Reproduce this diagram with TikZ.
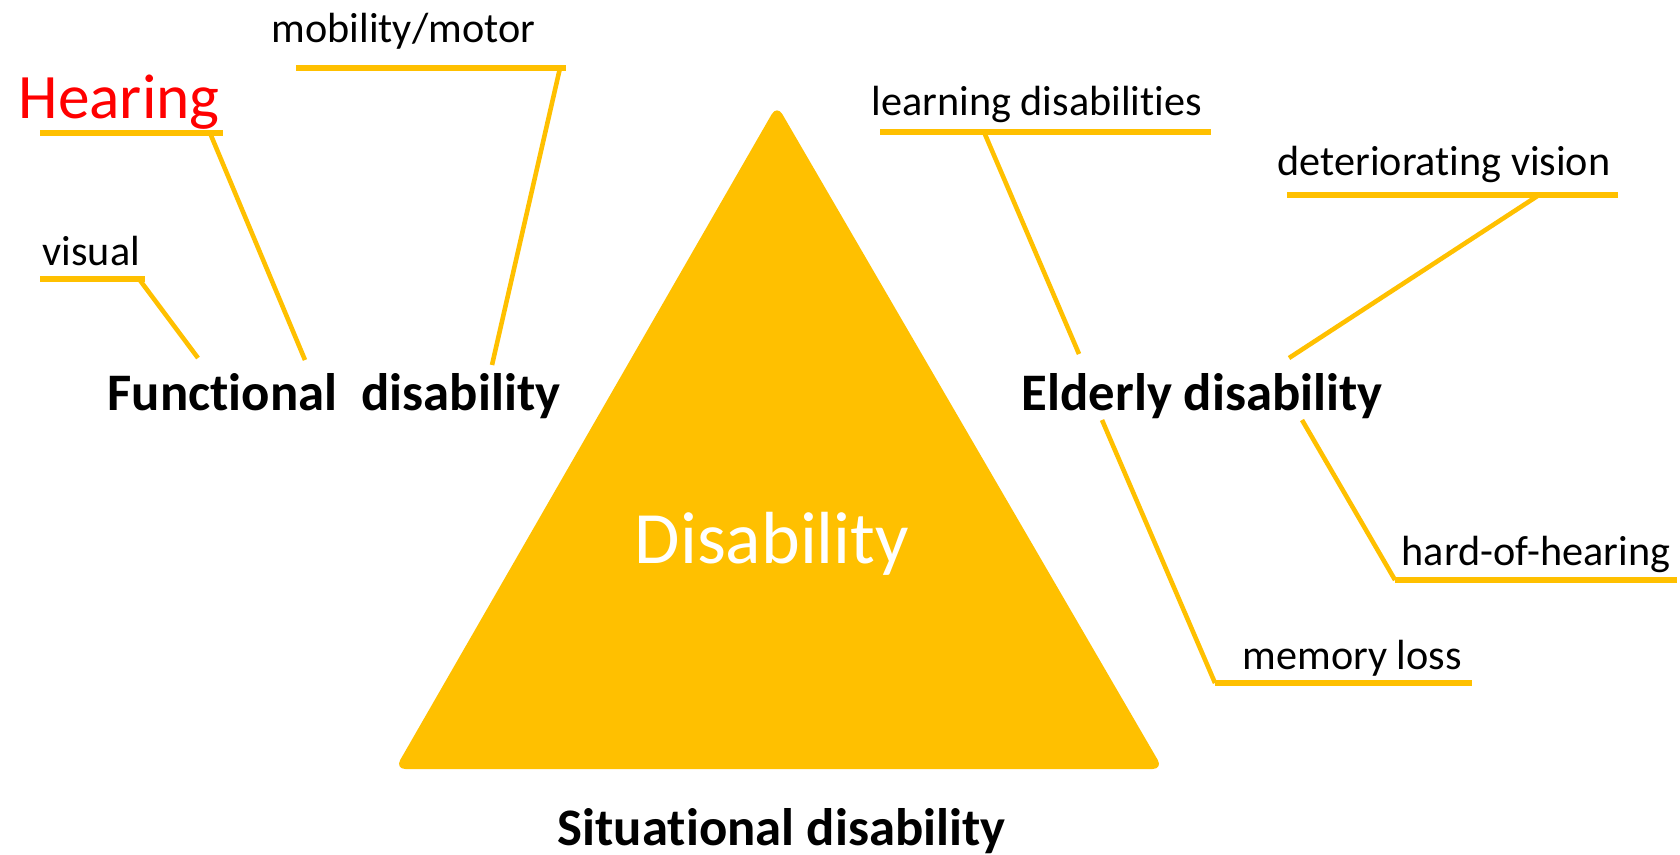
\documentclass[tikz,border=0pt]{standalone}
\usepackage{fontspec}
\setmainfont{Carlito}[Ligatures=NoCommon]
\usepackage{tikz}
\definecolor{gold}{HTML}{FFC000}

\begin{document}
\begin{tikzpicture}[x=0.01cm,y=-0.01cm,
        under/.style={draw=gold, line width=1.6pt},
        lead/.style={draw=gold, line width=1.3pt},
        lab/.style={anchor=base west, inner sep=0pt,
                        font=\fontsize{12}{14}\selectfont},
        head/.style={anchor=base west, inner sep=0pt,
                        font=\fontsize{15}{18}\selectfont\bfseries}]
    \useasboundingbox (0,0) rectangle (1680,854);
    \fill[gold, rounded corners=3pt]
    (777,105) -- (1163,769) -- (395,769) -- cycle;

    \node[lab] (mob) at (271,42) {mobility/motor};
    \node[lab, text=red, font=\fontsize{18}{20}\selectfont] (hear) at (18,118) {Hearing};
    \node[lab] (vis) at (42,265) {visual};
    \node[head] (func) at (107,410) {Functional\ \ disability};
    \node[lab] (learn) at (871,115) {learning disabilities};
    \node[lab] (det) at (1277,175) {deteriorating vision};
    \node[head] (eld) at (1021,410) {Elderly disability};
    \node[lab, text=white, font=\fontsize{21}{24}\selectfont] (dis) at (634,563) {Disability};
    \node[lab] (hard) at (1401,565) {hard-of-hearing};
    \node[lab] (mem) at (1242,669) {memory loss};
    \node[head] (sit) at (557,845) {Situational disability};

    % underlines
    \draw[under] (296,68) coordinate (mobA) -- (566,68) coordinate (mobB);
    \draw[under] (40,133) coordinate (hearA) -- (223,133) coordinate (hearB);
    \draw[under] (40,279) coordinate (visA) -- (145,279) coordinate (visB);
    \draw[under] (880,132) coordinate (learnA) -- (1211,132) coordinate (learnB);
    \draw[under] (1287,195) coordinate (detA) -- (1618,195) coordinate (detB);
    \draw[under] (1395,580) coordinate (hardA) -- (1677,580) coordinate (hardB);
    \draw[under] (1215,683) coordinate (memA) -- (1472,683) coordinate (memB);

    % leads
    \coordinate (mobC) at (560,68);    \coordinate (mobD) at (492,365);
    \coordinate (hearC) at (210,133);  \coordinate (hearD) at (305,360);
    \coordinate (visC) at (139,279);   \coordinate (visD) at (198,358);
    \coordinate (learnC) at (984,132); \coordinate (learnD) at (1079,354);
    \coordinate (detC) at (1539,195);  \coordinate (detD) at (1289,358);
    \coordinate (hardC) at (1302,420);
    \coordinate (memC) at (1102,420);
    \draw[lead] (mobC) -- (mobD);
    \draw[lead] (hearC) -- (hearD);
    \draw[lead] (visC) -- (visD);
    \draw[lead] (learnC) -- (learnD);
    \draw[lead] (detC) -- (detD);
    \draw[lead] (hardC) -- (hardA);
    \draw[lead] (memC) -- (memA);
\end{tikzpicture}
\end{document}
